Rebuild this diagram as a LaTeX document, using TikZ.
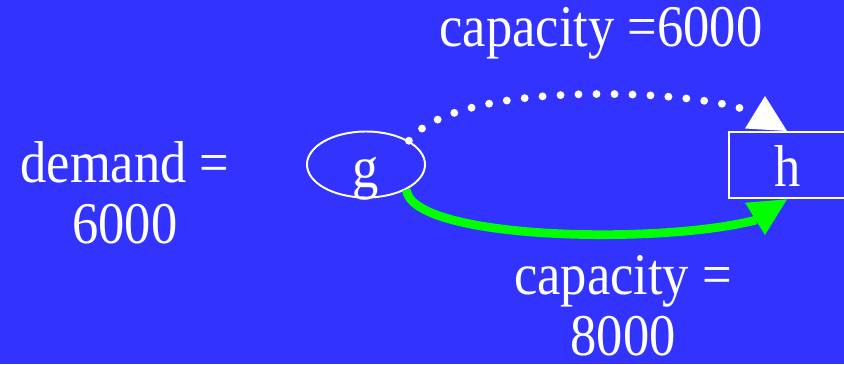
\documentclass[tikz,border=0pt]{standalone}
\usepackage{fontspec}
\setmainfont[FakeStretch=0.89]{Liberation Serif}
\usetikzlibrary{
  shapes.geometric,
  positioning,
  calc
}
\definecolor{fnBlue}{HTML}{3333FF}
\definecolor{fnGreen}{HTML}{00FF00}
\tikzset{
  bigtext/.style={text=white, font=\fontsize{42}{43.5}\selectfont, inner sep=0pt},
  srcnode/.style={
    bigtext, draw=white, ellipse, line width=1.4pt,
    minimum width=2.95cm, minimum height=1.65cm, text height=1.125cm, text depth=0pt
  },
  dstnode/.style={
    bigtext, draw=white, rectangle, line width=1.4pt,
    minimum width=2.93cm, minimum height=1.665cm, text height=1.085cm, text depth=0pt
  },
  lbl/.style={bigtext, align=center},
  dotarc/.style={white, line width=5.6pt, line cap=round, dash pattern=on 0pt off 12.8pt},
  greenarc/.style={fnGreen, line width=6.2pt}
}

\begin{document}
\begin{tikzpicture}[x=0.025cm, y=-0.025cm]
  \fill[fnBlue] (0,0) rectangle (844,364);
  \useasboundingbox (0,0) rectangle (844,364);
  \node[srcnode] (g) at (366,164.5) {g};
  \node[dstnode] (h) at (787.5,165) {h};
  \coordinate (capEnd) at (740,108);
  \coordinate (flowEnd) at (756,220);
  % dotted arc and its head
  \draw[dotarc] (g.29) .. controls (455,82) and (670,88) .. (capEnd);
  \fill[white] (745,128.5) -- (765,96) -- (787,131) -- cycle;
  % green arc and its head
  \draw[greenarc] (g.-32) .. controls (412,240) and (660,245) .. (flowEnd);
  \fill[fnGreen] (745,202.7) -- (765,235) -- (787,199.3) -- cycle;
  \node[lbl, anchor=base] (capTop) at (601,46) {capacity =6000};
  \node[lbl] (dem) at (125,193) {demand =\\6000};
  \node[lbl] (capBot) at (623,306) {capacity =\\8000};
\end{tikzpicture}
\end{document}
